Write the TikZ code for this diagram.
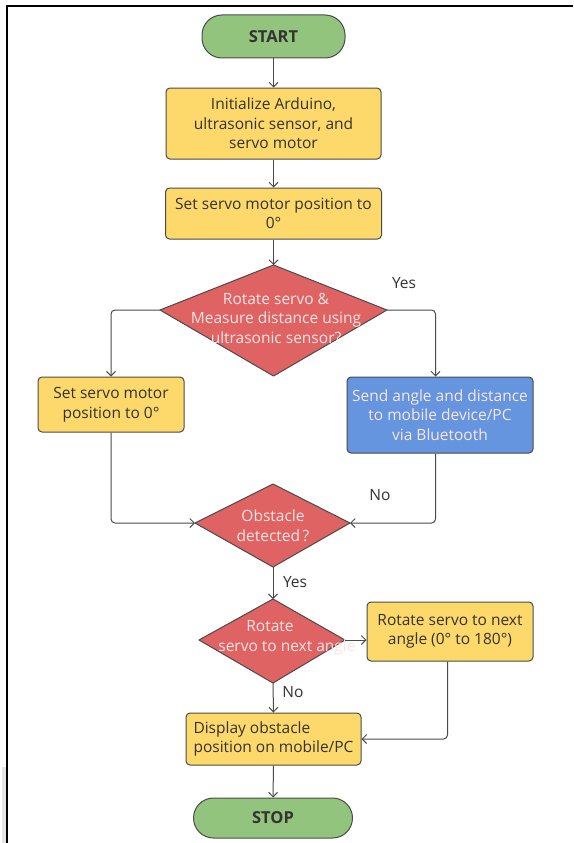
\documentclass[tikz,border=0pt]{standalone}
\usepackage{fontspec}
\setmainfont{Open Sans}
\usetikzlibrary{arrows.meta}
\definecolor{termfill}{HTML}{93C47D}
\definecolor{procfill}{HTML}{FDD86A}
\definecolor{decfill}{HTML}{E06363}
\definecolor{bluefill}{HTML}{6495DE}
\definecolor{bord}{HTML}{4A4A4A}
\definecolor{txtdark}{HTML}{333333}
\definecolor{txtlight}{HTML}{FBE6E6}
\tikzset{
  basefont/.style={font=\fontsize{15.5}{19.5}\selectfont},
  term/.style={draw=bord, line width=1pt, fill=termfill, rounded corners=20pt, inner sep=0pt,
    text=txtdark, font=\fontsize{16.5}{19}\selectfont\bfseries},
  proc/.style={draw=bord, line width=1pt, fill=procfill, rounded corners=4pt, inner sep=0pt,
    align=center, text=txtdark, basefont},
  bluebox/.style={proc, fill=bluefill, text=txtlight},
  dia/.style={draw=bord, line width=1pt, fill=decfill, line join=round},
  diatext/.style={inner sep=0pt, align=center, text=txtlight, basefont},
  lab/.style={inner sep=0pt, text=txtdark, basefont},
  arr/.style={draw=bord, line width=1pt, rounded corners=4pt,
    -{Straight Barb[length=4.5pt,width=9pt,line width=1pt]}}
}
\begin{document}
\begin{tikzpicture}[x=1pt,y=-1pt]
\useasboundingbox (0,0) rectangle (573,843);
\fill[white] (0,0) rectangle (573,843);
\fill[black!10] (1.5,767) rectangle (5.8,843);
\draw[black, line width=2pt] (6.8,843) -- (6.8,6.2) -- (573,6.2);

% terminals and process boxes
\node[term, minimum width=143pt, minimum height=43pt] (start) at (273.5,36.5) {START};
\node[proc, minimum width=215pt, minimum height=71pt] (init) at (273.5,123.5)
  {Initialize Arduino,\\ultrasonic sensor, and\\servo motor};
\node[proc, minimum width=216pt, minimum height=51pt] (setb) at (273.5,213.5)
  {Set servo motor position to\\0°};
\node[proc, minimum width=146pt, minimum height=55pt] (lbox) at (111,404.5)
  {Set servo motor\\position to 0°};
\node[bluebox, minimum width=186pt, minimum height=76pt] (blue) at (440,415)
  {Send angle and distance\\to mobile device/PC\\via Bluetooth};
\node[proc, minimum width=166pt, minimum height=59pt] (rbox) at (450,631.5)
  {Rotate servo to next\\angle (0° to 180°)};
\node[proc, align=left, minimum width=175pt, minimum height=52pt] (disp) at (273.5,739)
  {Display obstacle\\position on mobile/PC};
\node[term, minimum width=159pt, minimum height=40pt] (stop) at (273,818) {STOP};

% decision diamonds
\coordinate (d1t) at (273.5,265); \coordinate (d1r) at (387,310);
\coordinate (d1b) at (273.5,376); \coordinate (d1l) at (160,310);
\draw[dia] (d1t) -- (d1r) -- (d1b) -- (d1l) -- cycle;
\node[diatext] (d1) at (276,318) {Rotate servo \&\\Measure distance using\\ultrasonic sensor?};

\coordinate (d2t) at (273,484); \coordinate (d2r) at (350,523);
\coordinate (d2b) at (273,567); \coordinate (d2l) at (195,523);
\draw[dia] (d2t) -- (d2r) -- (d2b) -- (d2l) -- cycle;
\node[diatext] (d2) at (273,525.5) {Obstacle\\detected\,?};

\coordinate (d3t) at (273,599); \coordinate (d3r) at (345,640);
\coordinate (d3b) at (273,683); \coordinate (d3l) at (199,640);
\draw[dia] (d3t) -- (d3r) -- (d3b) -- (d3l) -- cycle;
\node[diatext] (d3a) at (270,626) {Rotate};
\node[diatext] (d3c) at (287,647) {servo to next angle};

% helper points
\coordinate (bt) at ([xshift=-4.5pt]blue.north);
\coordinate (bb) at ([xshift=-4.5pt]blue.south);
\coordinate (rb) at ([xshift=-2.5pt]rbox.south);

% connectors
\draw[arr] (start.south) -- (init.north);
\draw[arr] (init.south) -- (setb.north);
\draw[arr] (setb.south) -- (d1t);
\draw[arr] (d1l) -| (lbox.north);
\draw[arr] (d1r) -| (bt);
\draw[arr] (lbox.south) |- (d2l);
\draw[arr] (bb) |- (d2r);
\draw[arr] (d2b) -- (d3t);
\draw[arr] (d3r) -- (d3r -| rbox.west);
\draw[arr] (rb) |- (disp.east);
\draw[arr] (d3b) -- (disp.north);
\draw[arr] (disp.south) -- (stop.north);

% labels
\node[lab] (yes1) at (404,283) {Yes};
\node[lab] (no1) at (380,495) {No};
\node[lab] (yes2) at (295,582) {Yes};
\node[lab] (no2) at (293,692) {No};
\end{tikzpicture}
\end{document}
